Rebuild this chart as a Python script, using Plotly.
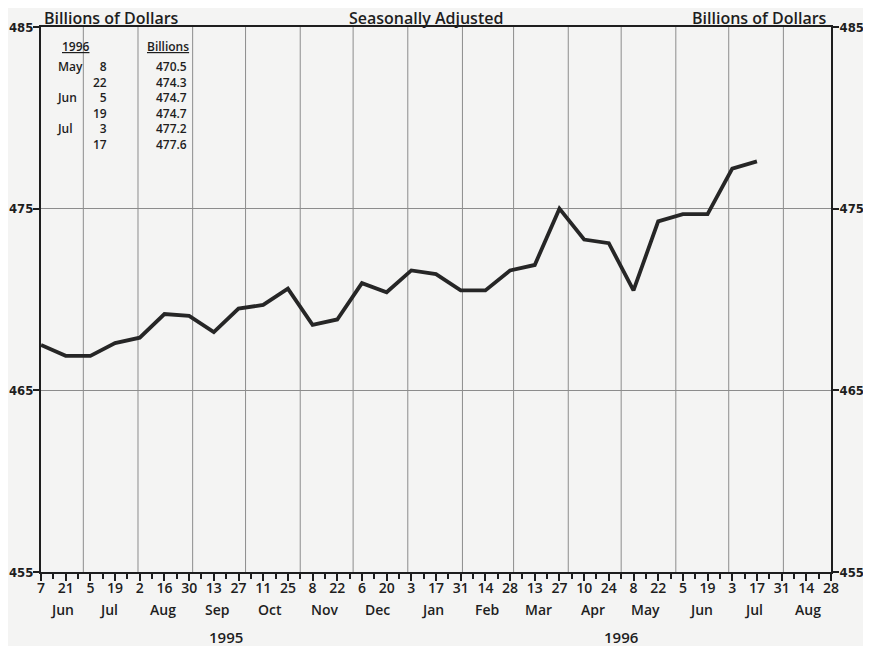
import plotly.graph_objects as go
import pandas as pd

# biweekly observations, Jun 7 1995 - Jul 17 1996
start_date = '1995-06-07'
values = [467.5, 466.9, 466.9, 467.6, 467.9, 469.2, 469.1, 468.2, 469.5, 469.7,
          470.6, 468.6, 468.9, 470.9, 470.4, 471.6, 471.4, 470.5, 470.5, 471.6,
          471.9, 475.0, 473.3, 473.1, 470.5, 474.3, 474.7, 474.7, 477.2, 477.6]
dates = pd.date_range(start_date, periods=len(values), freq='14D')

# inset table
table_months = ['May', '', 'Jun', '', 'Jul', '']
table_days = ['8', '22', '5', '19', '3', '17']
table_values = ['470.5', '474.3', '474.7', '474.7', '477.2', '477.6']

x_start, x_end = '1995-06-07', '1996-08-28'
y_ticks = [455, 465, 475, 485]
tick_dates = pd.date_range(x_start, x_end, freq='14D')
month_starts = pd.date_range('1995-07-01', '1996-08-01', freq='MS')
month_names = ['Jun', 'Jul', 'Aug', 'Sep', 'Oct', 'Nov', 'Dec',
               'Jan', 'Feb', 'Mar', 'Apr', 'May', 'Jun', 'Jul', 'Aug']
month_mids = list(pd.date_range('1995-06-01', '1996-08-01', freq='MS') + pd.Timedelta(days=14))
month_mids[0] = pd.Timestamp('1995-06-19')  # first month only partly shown
years = ['1995', '1996']
year_pos = ['1995-09-20', '1996-05-01']

FONT = 'Open Sans'
NARROW = 'DejaVu Sans Condensed'
INK = '#1e1e1e'
GRID = '#8c8c8c'
BG = '#f4f4f3'

# the page body adds an 8px offset, so margins are trimmed by that amount
W, H = 863, 638
ML, MT, MR, MB = 33, 19, 40, 74
PW, PH = W - ML - MR, H - MT - MB

fig = go.Figure()
fig.add_trace(go.Scatter(
    x=dates, y=values, mode='lines',
    line=dict(color='#262626', width=3.8),
    showlegend=False, hoverinfo='x+y'
))
# invisible copy so the right-hand axis gets drawn
fig.add_trace(go.Scatter(
    x=dates, y=values, yaxis='y2', mode='lines',
    line=dict(width=0), opacity=0, showlegend=False, hoverinfo='skip'
))

# vertical grid at month starts
for d in month_starts:
    fig.add_shape(type='line', x0=d, x1=d, y0=0, y1=1, yref='paper',
                  line=dict(color=GRID, width=1), layer='below')

ytick_text = ['<b>%d</b>' % v for v in y_ticks]
yfont = dict(family=NARROW, size=13, color=INK)
fig.update_layout(
    width=W, height=H,
    margin=dict(l=ML, r=MR, t=MT, b=MB, autoexpand=False),
    paper_bgcolor=BG, plot_bgcolor=BG,
    font=dict(family=FONT, color=INK),
    xaxis=dict(
        range=[x_start, x_end], showgrid=False, zeroline=False, automargin=False,
        tickvals=tick_dates, ticktext=[str(d.day) for d in tick_dates],
        ticks='outside', ticklen=7, tickwidth=2, tickcolor=INK, ticklabelstandoff=-5,
        tickfont=dict(family=FONT, size=14, color=INK, weight=600),
        showline=True, linecolor=INK, linewidth=2, mirror=True,
        minor=dict(dtick=7 * 86400000, tick0=start_date, ticks='outside',
                   ticklen=5, tickwidth=1.5, tickcolor=INK),
    ),
    yaxis=dict(
        range=[455, 485], tickvals=y_ticks, ticktext=ytick_text, showgrid=True,
        gridcolor=GRID, gridwidth=1, zeroline=False, automargin=False,
        ticks='outside', ticklen=6, tickwidth=2, tickcolor=INK, ticklabelstandoff=-3,
        tickfont=yfont, showline=True, linecolor=INK, linewidth=2, mirror=True,
    ),
    yaxis2=dict(
        range=[455, 485], tickvals=y_ticks, ticktext=ytick_text, overlaying='y',
        side='right', showgrid=False, zeroline=False, automargin=False,
        ticks='outside', ticklen=7, tickwidth=2, tickcolor=INK, ticklabelstandoff=-2,
        tickfont=yfont,
    ),
)

head = dict(size=16, weight=600)
fig.add_annotation(text='Billions of Dollars', x=0, xref='paper', xanchor='left', xshift=1,
                   y=1, yref='paper', yanchor='bottom', yshift=-4, showarrow=False, font=head)
fig.add_annotation(text='Billions of Dollars', x=1, xref='paper', xanchor='right', xshift=-2,
                   y=1, yref='paper', yanchor='bottom', yshift=-4, showarrow=False, font=head)
fig.add_annotation(text='Seasonally Adjusted', x=0.487, xref='paper', xanchor='center',
                   y=1, yref='paper', yanchor='bottom', yshift=-4, showarrow=False,
                   font=dict(size=16, weight=600))

# month & year labels
for m, d in zip(month_names, month_mids):
    fig.add_annotation(text=m, x=d, xref='x', y=0, yref='paper', yanchor='middle',
                       yshift=-37, showarrow=False, font=dict(size=14, weight=600))
for yr, d in zip(years, year_pos):
    fig.add_annotation(text=yr, x=d, xref='x', y=0, yref='paper', yanchor='middle',
                       yshift=-65, showarrow=False, font=dict(size=15, weight=600))


# inset table, placed by reference pixel position inside the plot area
def fx(px):
    return (px - 41) / PW


def fy(py):
    return 1 - (py - 27) / PH


tab = dict(family=FONT, size=12, color=INK, weight=600)
fig.add_annotation(text='<u>1996</u>', x=fx(76), y=fy(46), xref='paper', yref='paper',
                   xanchor='center', yanchor='middle', showarrow=False, font=tab)
fig.add_annotation(text='<u>Billions</u>', x=fx(168), y=fy(46), xref='paper', yref='paper',
                   xanchor='center', yanchor='middle', showarrow=False, font=tab)
col_y = fy(105)
fig.add_annotation(text='<br>'.join(m or ' ' for m in table_months),
                   x=fx(55), y=col_y, xref='paper', yref='paper', xanchor='left',
                   yanchor='middle', align='left', showarrow=False, font=tab)
fig.add_annotation(text='<br>'.join(table_days),
                   x=fx(109), y=col_y, xref='paper', yref='paper', xanchor='right',
                   yanchor='middle', align='right', showarrow=False, font=tab)
fig.add_annotation(text='<br>'.join(table_values),
                   x=fx(189), y=col_y, xref='paper', yref='paper', xanchor='right',
                   yanchor='middle', align='right', showarrow=False, font=tab)

fig.write_html('out.html')
